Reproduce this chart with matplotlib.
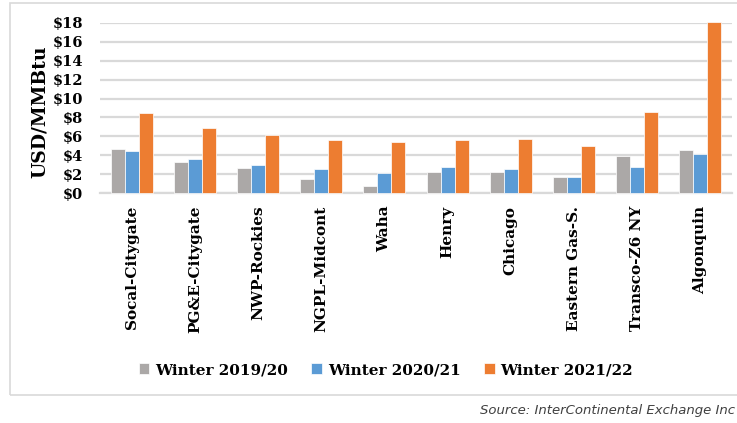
import matplotlib
matplotlib.use("Agg")
import matplotlib.pyplot as plt
from matplotlib.patches import Rectangle
import numpy as np

categories = ["Socal-Citygate", "PG&E-Citygate", "NWP-Rockies", "NGPL-Midcont", "Waha",
              "Henry", "Chicago", "Eastern Gas-S.", "Transco-Z6 NY", "Algonquin"]
w1920 = [4.68, 3.27, 2.64, 1.51, 0.81, 2.25, 2.25, 1.73, 3.91, 4.58]
w2021 = [4.47, 3.66, 2.99, 2.54, 2.15, 2.75, 2.54, 1.73, 2.75, 4.15]
w2122 = [8.45, 6.94, 6.13, 5.60, 5.39, 5.60, 5.70, 5.00, 8.56, 18.03]
series_names = ["Winter 2019/20", "Winter 2020/21", "Winter 2021/22"]
colors = ["#ABA8A7", "#5B9BD5", "#ED7D31"]
yticks = list(range(0, 19, 2))

W, H = 737, 423
fig = plt.figure(figsize=(W/100, H/100), dpi=100)
serif = "DejaVu Serif"

# outer frame
fig.patches.append(Rectangle((10/W, 1-395/H), 740/W, (395-3)/H, transform=fig.transFigure,
                             fill=False, edgecolor="#D9D9D9", linewidth=1.2))

ax = fig.add_axes([100/W, 1-193.3/H, 632/W, (193.3-22.7)/H])
x = np.arange(len(categories))
bw = 0.222
for i, (vals, name, c) in enumerate(zip([w1920, w2021, w2122], series_names, colors)):
    ax.bar(x + (i-1)*bw, vals, width=bw, color=c, label=name, edgecolor="white",
           linewidth=0.5, clip_on=False, zorder=3)

ax.set_xlim(-0.5, len(categories)-0.5)
ax.set_ylim(0, 18)
ax.set_yticks(yticks)
ax.set_yticklabels([f"${v}" for v in yticks], fontfamily=serif, fontweight="bold", fontsize=10.5)
ax.yaxis.grid(True, color="#D9D9D9", linewidth=1.6, zorder=0)
ax.set_axisbelow(True)
for s in ["top", "right", "left"]:
    ax.spines[s].set_visible(False)
ax.spines["bottom"].set_color("#D9D9D9")
ax.spines["bottom"].set_linewidth(1.6)
ax.tick_params(axis="both", length=0)
ax.tick_params(axis="y", pad=12)
ax.set_xticks(x)
ax.set_xticklabels(categories, rotation=90, fontfamily=serif, fontweight="bold", fontsize=11)
ax.tick_params(axis="x", pad=9)
ax.set_ylabel("USD/MMBtu", fontfamily=serif, fontweight="bold", fontsize=13.5)
ax.yaxis.set_label_coords(-51/632, 0.48)

leg = fig.legend(loc="center", bbox_to_anchor=(386/W, 1-370/H), ncol=3, frameon=False,
                 prop={"family": serif, "weight": "bold", "size": 11},
                 handlelength=0.7, handleheight=0.7, handletextpad=0.4, columnspacing=1.5)

fig.text(735/W, 1-410/H, "Source: InterContinental Exchange Inc", ha="right", va="center",
         fontsize=9.5, style="italic", color="#404040", fontfamily="DejaVu Sans")

fig.savefig("out.png", dpi=100)
